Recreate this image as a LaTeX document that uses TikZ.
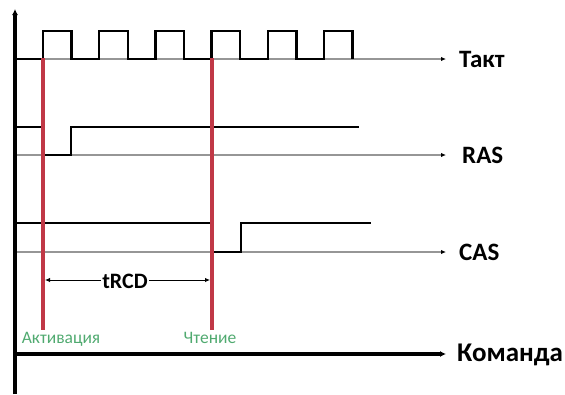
\documentclass[tikz,border=0pt]{standalone}
\usepackage{fontspec}
\setmainfont{Carlito}
\usetikzlibrary{arrows.meta}
\definecolor{redline}{RGB}{192,56,70}
\definecolor{greentext}{RGB}{80,170,112}
\definecolor{baseg}{RGB}{150,150,150}
\tikzset{
  axisline/.style={line width=3.8pt,black},
  sigline/.style={line width=2.5pt,black,line join=miter},
  baseline/.style={line width=1.1pt,baseg,-{Latex[length=5pt,width=4.5pt,black]}},
  marker/.style={line width=3.8pt,redline},
  siglabel/.style={font=\bfseries\fontsize{25}{26}\selectfont,anchor=west,inner sep=0pt},
  evlabel/.style={font=\fontsize{17.5}{18}\selectfont,text=greentext,inner sep=0pt},
}
\begin{document}
\begin{tikzpicture}[x=1pt,y=-1pt]
\useasboundingbox (0,0) rectangle (565,394);
% base lines
\coordinate (t0) at (15,59);   \coordinate (t1) at (446,59);
\coordinate (r0) at (15,155);  \coordinate (r1) at (446,155);
\coordinate (s0) at (15,252);  \coordinate (s1) at (446,252);
\draw[baseline] (t0) -- (t1);
\draw[baseline] (r0) -- (r1);
\draw[baseline] (s0) -- (s1);
% clock
\draw[sigline] (15,59) -- (43,59)
  \foreach \x in {43,99.2,155.4,211.6,267.8,324} {
    -- (\x,59) -- (\x,31) -- (\x+28.6,31) -- (\x+28.6,59)
  } ;
% RAS
\draw[sigline] (15,127) -- (43,127) -- (43,155) -- (71,155) -- (71,127) -- (359,127);
% CAS
\draw[sigline] (15,223) -- (213,223) -- (213,252) -- (241,252) -- (241,223) -- (371,223);
% markers
\coordinate (a1) at (43,58);
\coordinate (a2) at (43,330);
\coordinate (c1) at (212,58);
\coordinate (c2) at (212,330);
\draw[marker] (a1) -- (a2);
\draw[marker] (c1) -- (c2);
% command
\coordinate (k0) at (15,354); \coordinate (k1) at (446,354);
\draw[line width=3.8pt,-{Latex[length=6pt,width=6pt]}] (k0) -- (k1);
% axis
\coordinate (y0) at (15,394); \coordinate (y1) at (15,9);
\draw[axisline,-{Latex[length=6pt,width=6pt]}] (y0) -- (y1);
% tRCD
\coordinate (d0) at (45,280); \coordinate (d1) at (210,280);
\draw[line width=0.9pt,{Latex[length=5pt,width=4.5pt]}-{Latex[length=5pt,width=4.5pt]}] (d0) -- (d1);
\node[font=\bfseries\fontsize{22}{23}\selectfont,fill=white,inner sep=1pt] (trcd) at (125,281) {tRCD};
% labels
\node[siglabel] (lt) at (459,59) {Такт};
\node[siglabel] (lr) at (462,155) {RAS};
\node[siglabel] (lc) at (459,252) {CAS};
\node[siglabel,font=\bfseries\fontsize{27}{28}\selectfont] (lk) at (457,355) {Команда};
\node[evlabel] (la) at (61,339) {Активация};
\node[evlabel] (lch) at (210,338) {Чтение};
\end{tikzpicture}
\end{document}
